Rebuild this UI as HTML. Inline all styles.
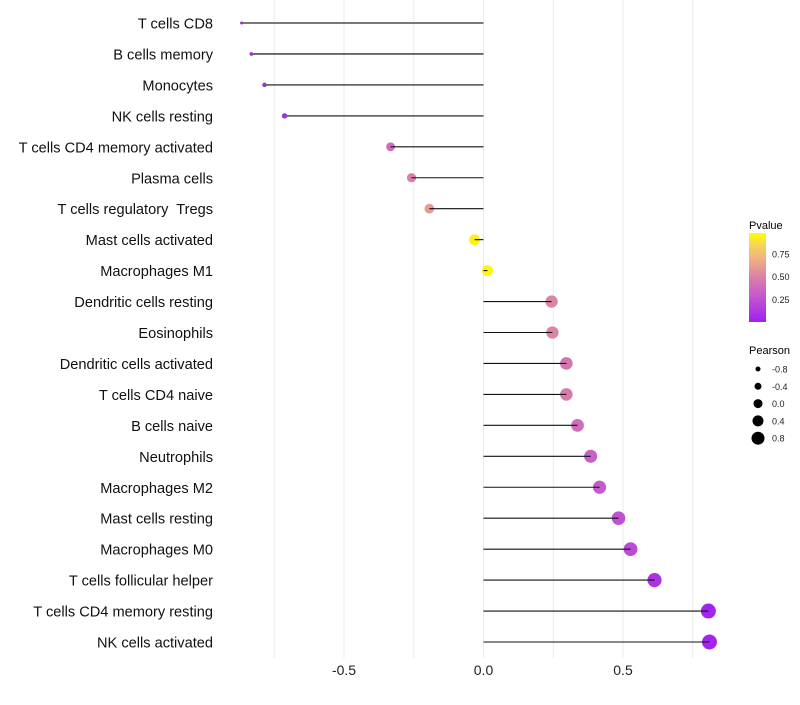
<!DOCTYPE html>
<html><head><meta charset="utf-8"><style>
body{margin:0;background:#fff;font-family:"Liberation Sans",sans-serif}
text{white-space:pre}
</style></head><body>
<svg id="c" width="800" height="700" xmlns="http://www.w3.org/2000/svg">
<defs><linearGradient id="pg" x1="0" y1="1" x2="0" y2="0">
<stop offset="0" stop-color="#a020f0"/><stop offset="0.33" stop-color="#c860c8"/><stop offset="0.5" stop-color="#d880a8"/><stop offset="0.67" stop-color="#eea888"/><stop offset="0.85" stop-color="#f6d060"/><stop offset="1" stop-color="#ffff00"/></linearGradient></defs>
<g id="grid"></g><g id="marks"></g><g id="labels"></g>
<text x="749" y="229" font-size="11">Pvalue</text>
<rect x="749" y="233" width="17" height="89" fill="url(#pg)"/>
<text x="749" y="354" font-size="11">Pearson</text>
<g id="legend"></g>
</svg>
<script>
const categories=["T cells CD8","B cells memory","Monocytes","NK cells resting","T cells CD4 memory activated","Plasma cells","T cells regulatory  Tregs","Mast cells activated","Macrophages M1","Dendritic cells resting","Eosinophils","Dendritic cells activated","T cells CD4 naive","B cells naive","Neutrophils","Macrophages M2","Mast cells resting","Macrophages M0","T cells follicular helper","T cells CD4 memory resting","NK cells activated"];
const pearson=[-0.867,-0.832,-0.785,-0.713,-0.333,-0.258,-0.194,-0.032,0.014,0.244,0.247,0.297,0.297,0.337,0.384,0.416,0.484,0.527,0.613,0.806,0.81];
const pvalue=[0.02,0.03,0.03,0.05,0.4,0.5,0.62,0.95,0.97,0.52,0.52,0.45,0.48,0.4,0.33,0.3,0.25,0.22,0.1,0.02,0.02];
const xTicks=[-0.5,0,0.5];
const xTickLabels=["-0.5","0.0","0.5"];
const gridVals=[-0.75,-0.5,-0.25,0,0.25,0.5,0.75];
const colorTicks=[0.25,0.5,0.75];
const sizeLegend=[-0.8,-0.4,0,0.4,0.8];
const NS="http://www.w3.org/2000/svg";
const X=v=>483.5+v*279;
const Y=i=>23+i*30.95;
const R=p=>Math.sqrt(Math.max(1.5,30.2+32.2*p));
const stops=[[0,[160,32,240]],[0.33,[200,96,200]],[0.5,[216,128,168]],[0.67,[238,168,136]],[0.85,[246,208,96]],[1,[255,255,0]]];
function col(p){for(let i=1;i<stops.length;i++){if(p<=stops[i][0]){const a=stops[i-1],b=stops[i],t=(p-a[0])/(b[0]-a[0]);return "rgb("+a[1].map((c,k)=>Math.round(c+(b[1][k]-c)*t)).join(",")+")";}}return "rgb(255,255,0)";}
function mk(t,a,parent){const e=document.createElementNS(NS,t);for(const k in a)e.setAttribute(k,a[k]);document.getElementById(parent).appendChild(e);return e;}
gridVals.forEach(v=>{const l=mk("line",{x1:X(v),x2:X(v),y1:0,y2:658,stroke:"#ebebeb","stroke-width":1},"grid");

});
xTicks.forEach((v,i)=>{const t=mk("text",{x:X(v),y:675,"font-size":14,"text-anchor":"middle",fill:"#222"},"labels");t.textContent=xTickLabels[i];

});
categories.forEach((c,i)=>{
const t=mk("text",{x:213,y:Y(i)+5.5,"font-size":14.6,"text-anchor":"end",fill:"#111"},"labels");t.textContent=c;


const d=mk("circle",{cx:X(pearson[i]),cy:Y(i),r:R(pearson[i]),fill:col(pvalue[i])},"marks");


const l=mk("line",{x1:X(0),x2:X(pearson[i]),y1:Y(i),y2:Y(i),stroke:i<4?"#666":"#111","stroke-width":i<4?1.8:1.1},"marks");

});
colorTicks.forEach(v=>{const y=322-v*91;
const t=mk("text",{x:772,y:y+3.5,"font-size":9,fill:"#222"},"legend");t.textContent=v.toFixed(2);

});
sizeLegend.forEach((v,i)=>{const y=369+i*17.3;
const c=mk("circle",{cx:758,cy:y,r:2.5+(v+0.8)*2.5,fill:"#000"},"legend");


const t=mk("text",{x:772,y:y+3.5,"font-size":9,fill:"#222"},"legend");t.textContent=v.toFixed(1);

});
</script>
</body></html>
